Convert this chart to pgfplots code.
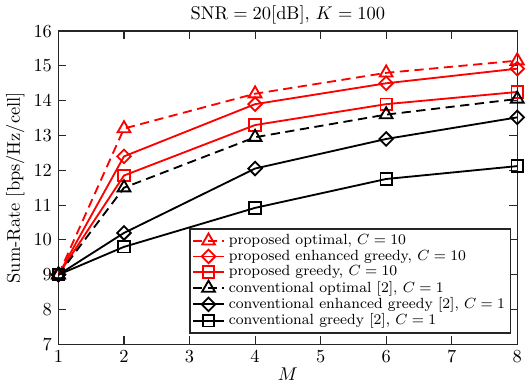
\documentclass[border=0pt]{standalone}
\usepackage{pgfplots}
\pgfplotsset{compat=1.18}
\begin{document}
\begin{tikzpicture}
\begin{axis}[
  scale only axis,
  width=249pt, height=170pt,
  xmin=1, xmax=8, ymin=7, ymax=16,
  xtick={1,2,3,4,5,6,7,8},
  ytick={7,8,9,10,11,12,13,14,15,16},
  tick align=inside,
  axis line style={line width=0.8pt, color=black!85},
  major tick style={color=black!85, line width=0.6pt},
  xlabel={$M$},
  ylabel={Sum-Rate [bps/Hz/cell]},
  xlabel style={yshift=4pt},
  ylabel style={yshift=-2pt},
  title={$\mathrm{SNR}=20[\mathrm{dB}]$, $K=100$},
  title style={yshift=-6pt},
  legend style={at={(rel axis cs:0.987,0.033)}, anchor=south east, font=\footnotesize,
    draw=black!85, line width=0.8pt, inner sep=1pt, row sep=-2.6pt,
    cells={anchor=west}},
  legend cell align=left,
  every axis plot/.append style={line width=1pt},
  tri/.style={mark=triangle, mark size=4pt, mark options={solid}},
  dia/.style={mark=square, mark size=2.6pt, mark options={solid, rotate=45}},
  sq/.style={mark=square, mark size=3.1pt, mark options={solid}},
  dsh/.style={dash pattern=on 5pt off 3pt},
]
\addplot[red, dsh, tri] coordinates {(1,9) (2,13.2) (4,14.2) (6,14.8) (8,15.15)};
\addlegendentry{proposed optimal, $C=10$}
\addplot[red, dia] coordinates {(1,9) (2,12.4) (4,13.9) (6,14.5) (8,14.92)};
\addlegendentry{proposed enhanced greedy, $C=10$}
\addplot[red, sq] coordinates {(1,9) (2,11.85) (4,13.3) (6,13.9) (8,14.25)};
\addlegendentry{proposed greedy, $C=10$}
\addplot[black, dsh, tri] coordinates {(1,9) (2,11.5) (4,12.95) (6,13.6) (8,14.05)};
\addlegendentry{conventional optimal [2], $C=1$}
\addplot[black, dia] coordinates {(1,9) (2,10.2) (4,12.05) (6,12.9) (8,13.52)};
\addlegendentry{conventional enhanced greedy [2], $C=1$}
\addplot[black, sq] coordinates {(1,9) (2,9.8) (4,10.92) (6,11.75) (8,12.12)};
\addlegendentry{conventional greedy [2], $C=1$}
\end{axis}
\end{tikzpicture}
\end{document}
